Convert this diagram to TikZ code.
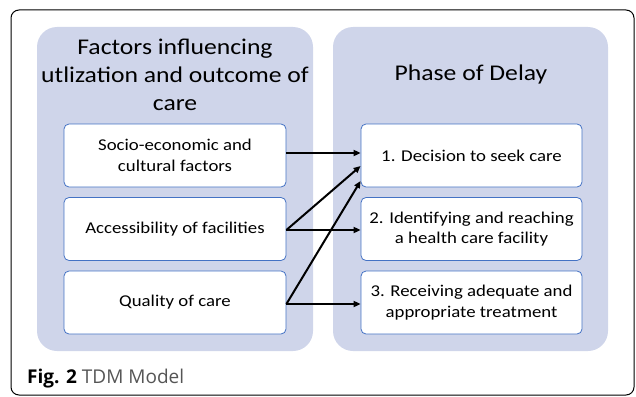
\documentclass[tikz,border=0pt]{standalone}
\usepackage{fontspec}
\setmainfont{Carlito}[FakeStretch=1.14]
\newfontfamily\capfont{Open Sans}
\usetikzlibrary{arrows.meta}
\definecolor{panelfill}{RGB}{207,213,234}
\definecolor{boxline}{RGB}{68,114,196}
\definecolor{capgray}{RGB}{85,85,85}
\tikzset{
  panel/.style={fill=panelfill, draw=none, rounded corners=20pt},
  itembox/.style={draw=boxline, fill=white, line width=0.8pt, rounded corners=5pt,
    minimum width=222pt, minimum height=63pt, align=center, font=\fontsize{16.5}{20.5}\selectfont, inner sep=0pt},
  titletext/.style={align=center, font=\fontsize{22.5}{28}\selectfont, inner sep=0pt},
  arr/.style={-{Triangle[length=7pt,width=6pt]}, line width=2pt}
}
\begin{document}
\begin{tikzpicture}[x=1pt,y=-1pt]
\useasboundingbox (0,0) rectangle (636,396);
\draw[line width=1pt, rounded corners=8pt] (11,10) rectangle (634,395);
\path[panel] (37,27) rectangle (313,351);
\path[panel] (333,27) rectangle (608,351);
\node[titletext] (t1) at (175,75) {Factors influencing\\utlization and outcome of\\care};
\node[titletext] (t2) at (471,75) {Phase of Delay};
\node[itembox] (l1) at (175,155.5) {Socio-economic and\\cultural factors};
\node[itembox] (l2) at (175,229) {Accessibility of facilities};
\node[itembox] (l3) at (175,302.5) {Quality of care};
\node[itembox, minimum width=221pt] (r1) at (471.5,155.5) {1. Decision to seek care};
\node[itembox, minimum width=221pt] (r2) at (471.5,229) {2. Identifying and reaching\\a health care facility};
\node[itembox, minimum width=221pt] (r3) at (471.5,302.5) {3. Receiving adequate and\\appropriate treatment};
\draw[arr] (l1.east |- 0,153) -- (r1.west |- 0,153);
\draw[arr] (l2.east |- 0,230) -- (r1.west |- 0,166);
\draw[arr] (l2.east |- 0,230) -- (r2.west |- 0,230);
\draw[arr] (l3.east |- 0,304) -- (r1.west |- 0,181);
\draw[arr] (l3.east |- 0,304) -- (r3.west |- 0,304);
\node[anchor=base west, inner sep=0pt, font=\capfont\fontsize{19}{22}\selectfont] (cap) at (27,383) {\textbf{Fig. 2} \textcolor{capgray}{TDM Model}};
\end{tikzpicture}
\end{document}
